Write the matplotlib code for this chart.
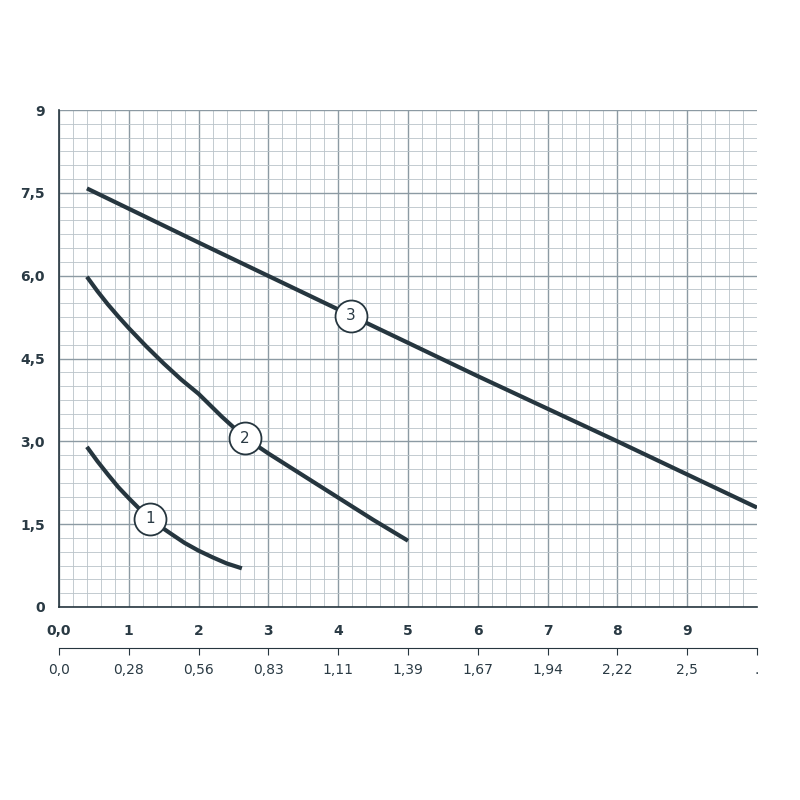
import numpy as np
import matplotlib
matplotlib.use("Agg")
import matplotlib.pyplot as plt
from matplotlib.ticker import MultipleLocator

x1 = [0.4, 0.55, 0.7, 0.85, 1.0, 1.15, 1.3, 1.45, 1.6, 1.8, 2.0, 2.2, 2.4, 2.62]
y1 = [2.9, 2.64, 2.4, 2.17, 1.97, 1.78, 1.61, 1.46, 1.33, 1.16, 1.02, 0.9, 0.79, 0.7]
x2 = [0.4, 0.55, 0.7, 0.85, 1.0, 1.25, 1.5, 1.75, 2.0, 2.33, 2.66, 3.0, 3.5, 4.0, 4.5, 5.0]
y2 = [5.98, 5.72, 5.48, 5.26, 5.05, 4.72, 4.41, 4.12, 3.86, 3.45, 3.07, 2.78, 2.38, 1.98, 1.58, 1.2]
x3 = [0.4, 2.0, 4.18, 6.0, 8.0, 10.0]
y3 = [7.58, 6.6, 5.28, 4.18, 3.0, 1.8]
labels = ["1", "2", "3"]
label_pos = [(1.3, 1.6), (2.66, 3.06), (4.18, 5.27)]
xticks_main = [0, 1, 2, 3, 4, 5, 6, 7, 8, 9]
xlabels_main = ["0,0", "1", "2", "3", "4", "5", "6", "7", "8", "9"]
yticks = [0, 1.5, 3.0, 4.5, 6.0, 7.5, 9]
ylabels = ["0", "1,5", "3,0", "4,5", "6,0", "7,5", "9"]
xticks_sec = [0, 1, 2, 3, 4, 5, 6, 7, 8, 9, 10]
xlabels_sec = ["0,0", "0,28", "0,56", "0,83", "1,11", "1,39", "1,67", "1,94", "2,22", "2,5", "."]

lc = "#26363f"
gc = "#8c9aa3"
tc = "#2a3a44"

fig = plt.figure(figsize=(8, 8), dpi=100)
ax = fig.add_axes([59/800, 1-607/800, 698/800, 497/800])
ax.set_xlim(0, 10)
ax.set_ylim(0, 9)
ax.xaxis.set_minor_locator(MultipleLocator(0.2))
ax.yaxis.set_minor_locator(MultipleLocator(0.25))
ax.set_xticks(xticks_main)
ax.set_xticklabels(xlabels_main, fontweight="bold", color=tc, fontsize=10)
ax.set_yticks(yticks)
ax.set_yticklabels(ylabels, fontweight="bold", color=tc, fontsize=10)
ax.grid(which="minor", color="#b9c3c9", lw=0.6)
ax.grid(which="major", color=gc, lw=1.0)
ax.tick_params(which="both", length=0, pad=12)
ax.tick_params(axis="y", pad=10)
for s in ["top", "right"]:
    ax.spines[s].set_visible(False)
for s in ["left", "bottom"]:
    ax.spines[s].set_color(lc)
    ax.spines[s].set_linewidth(1.2)
ax.set_axisbelow(True)
for xs, ys in [(x1, y1), (x2, y2), (x3, y3)]:
    ax.plot(xs, ys, color=lc, lw=3, solid_capstyle="butt", solid_joinstyle="round")
for lab, (px, py) in zip(labels, label_pos):
    ax.plot(px, py, "o", ms=23, mfc="white", mec=lc, mew=1.3, zorder=5)
    ax.text(px, py, lab, ha="center", va="center", fontsize=11, color=tc, zorder=6)

ax2 = fig.add_axes([59/800, 1-648/800, 698/800, 0.001])
ax2.set_xlim(0, 10)
ax2.set_yticks([])
for s in ["top", "right", "left"]:
    ax2.spines[s].set_visible(False)
ax2.spines["bottom"].set_color(lc)
ax2.set_xticks(xticks_sec)
ax2.set_xticklabels(xlabels_sec, color=tc, fontsize=10)
ax2.tick_params(axis="x", length=5, color=lc, pad=6)
ax2.patch.set_alpha(0)

fig.savefig("out.png", dpi=100, facecolor="white")
